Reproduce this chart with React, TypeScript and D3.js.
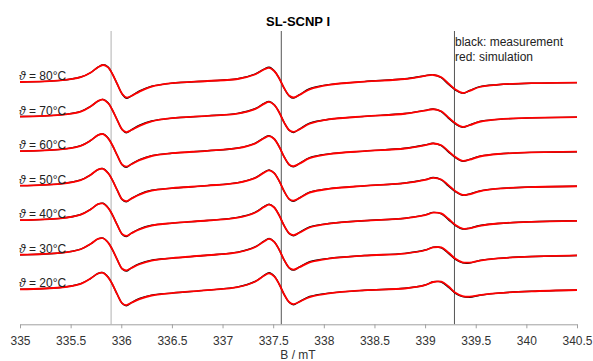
import React from "react";
import * as d3 from "d3";

// Magnetic field sampling grid (mT)
const fieldB: number[] = [
  335.0, 335.4, 335.6, 335.7, 335.77, 335.82, 335.87, 335.91, 335.96, 336.01,
  336.05, 336.1, 336.18, 336.3, 336.5, 336.85, 337.15, 337.32, 337.41, 337.46,
  337.51, 337.56, 337.61, 337.66, 337.7, 337.76, 337.86, 338.05, 338.4, 338.8,
  339.0, 339.08, 339.16, 339.23, 339.3, 339.37, 339.44, 339.54, 339.72, 340.05,
  340.5,
];

// Temperatures, top to bottom
const temperatures: number[] = [80, 70, 60, 50, 40, 30, 20];

// Measured first-derivative EPR spectra (a.u.)
const meas80 = [0, 1.6, 5.0, 9.5, 14.8, 17.2, 14.9, 8.5, -2.0, -12.3, -16.2, -13.8, -9.0, -4.2, -1.2, 1.0, 3.2, 7.8, 12.9, 14.7, 11.2, 3.5, -6.5, -14.1, -16.1, -12.7, -6.7, -2.6, 0.4, 3.2, 6.3, 7.3, 4.3, -2.3, -8.1, -11.4, -8.5, -4.6, -2.7, -1.2, -0.6];
const meas70 = [0, 1.7, 5.2, 10.3, 15.5, 17.2, 13.8, 7.0, -3.5, -13.3, -16.2, -13.3, -8.7, -4.4, -1.6, 0.7, 3.2, 7.8, 13.1, 15.1, 11.8, 4.0, -6.3, -14.0, -15.9, -12.5, -6.6, -2.7, 0.2, 3.0, 6.2, 7.6, 4.9, -1.6, -7.4, -10.8, -8.4, -4.8, -2.8, -1.3, -0.6];
const meas60 = [0, 1.7, 5.5, 10.8, 16.0, 17.2, 13.1, 6.3, -4.2, -13.9, -16.2, -13.0, -8.5, -4.5, -2.1, 0.3, 3.1, 7.8, 13.3, 15.5, 12.3, 4.3, -6.1, -13.9, -15.7, -12.3, -6.5, -2.8, 0.0, 2.8, 6.1, 7.9, 5.4, -0.8, -6.6, -10.2, -8.3, -5.0, -2.9, -1.3, -0.6];
const meas50 = [0, 1.8, 5.7, 11.0, 16.0, 17.0, 12.8, 6.0, -4.5, -14.1, -16.2, -12.8, -8.4, -4.6, -2.5, 0.0, 3.0, 7.8, 13.4, 15.8, 12.7, 4.5, -6.0, -13.8, -15.6, -12.2, -6.4, -3.0, -0.2, 2.7, 6.0, 8.1, 5.8, -0.3, -6.1, -9.6, -8.3, -5.2, -3.0, -1.4, -0.6];
const meas40 = [0, 1.8, 5.7, 11.0, 16.0, 16.9, 12.6, 5.8, -4.7, -14.2, -16.3, -12.9, -8.6, -5.0, -2.9, -0.3, 2.8, 7.8, 13.6, 16.0, 12.9, 4.7, -5.8, -13.6, -15.5, -12.2, -6.7, -3.3, -0.5, 2.0, 5.3, 7.8, 6.4, 0.6, -5.4, -8.8, -7.9, -5.3, -3.3, -1.6, -0.6];
const meas30 = [0, 1.8, 5.7, 11.0, 15.9, 16.7, 12.4, 5.6, -4.9, -14.3, -16.4, -13.1, -8.9, -5.4, -3.4, -0.5, 2.6, 7.8, 13.7, 16.3, 13.1, 4.9, -5.6, -13.4, -15.4, -12.2, -7.0, -3.6, -0.8, 1.4, 4.7, 7.6, 6.9, 1.4, -4.6, -8.1, -8.3, -5.7, -3.6, -1.8, -0.7];
const meas20 = [0, 1.8, 5.7, 11.0, 15.8, 16.6, 12.3, 5.5, -5.0, -14.3, -16.5, -13.3, -9.2, -5.8, -3.8, -0.8, 2.4, 7.8, 13.9, 16.5, 13.2, 5.0, -5.5, -13.3, -15.4, -12.2, -7.2, -3.8, -1.0, 1.0, 4.3, 7.6, 7.3, 2.2, -4.1, -7.3, -8.0, -5.9, -3.8, -2.0, -0.7];

// Simulated spectra (a.u.)
const sim80 = [0, 1.6, 4.8, 9.5, 14.8, 17.0, 14.6, 8.5, -2.0, -12.0, -15.5, -14.0, -9.6, -4.6, -1.2, 1.0, 3.0, 7.5, 12.5, 14.2, 11.0, 3.5, -6.5, -13.8, -15.5, -13.0, -7.3, -2.8, 0.4, 3.0, 6.1, 7.0, 4.7, -1.5, -7.5, -11.0, -8.8, -5.0, -2.7, -1.2, -0.6];
const sim70 = [0, 1.7, 5.0, 10.3, 15.5, 17.0, 13.5, 7.0, -3.5, -13.0, -15.5, -13.5, -9.3, -4.8, -1.6, 0.7, 3.0, 7.5, 12.7, 14.6, 11.6, 4.0, -6.3, -13.7, -15.3, -12.8, -7.2, -2.9, 0.2, 2.8, 6.0, 7.3, 5.3, -0.8, -6.8, -10.4, -8.7, -5.2, -2.8, -1.3, -0.6];
const sim60 = [0, 1.7, 5.3, 10.8, 16.0, 17.0, 12.8, 6.3, -4.2, -13.6, -15.5, -13.2, -9.1, -4.9, -2.1, 0.3, 2.9, 7.5, 12.9, 15.0, 12.1, 4.3, -6.1, -13.6, -15.1, -12.6, -7.1, -3.0, 0.0, 2.6, 5.9, 7.6, 5.8, 0.0, -6.0, -9.8, -8.6, -5.4, -2.9, -1.3, -0.6];
const sim50 = [0, 1.8, 5.5, 11.0, 16.0, 16.8, 12.5, 6.0, -4.5, -13.8, -15.5, -13.0, -9.0, -5.0, -2.5, 0.0, 2.8, 7.5, 13.0, 15.3, 12.5, 4.5, -6.0, -13.5, -15.0, -12.5, -7.0, -3.2, -0.2, 2.5, 5.8, 7.8, 6.2, 0.5, -5.5, -9.2, -8.6, -5.6, -3.0, -1.4, -0.6];
const sim40 = [0, 1.8, 5.5, 11.0, 16.0, 16.7, 12.3, 5.8, -4.7, -13.9, -15.6, -13.1, -9.2, -5.4, -2.9, -0.3, 2.6, 7.5, 13.2, 15.5, 12.7, 4.7, -5.8, -13.3, -14.9, -12.5, -7.3, -3.5, -0.5, 1.8, 5.1, 7.5, 6.8, 1.4, -4.8, -8.4, -8.2, -5.7, -3.3, -1.6, -0.6];
const sim30 = [0, 1.8, 5.5, 11.0, 15.9, 16.5, 12.1, 5.6, -4.9, -14.0, -15.7, -13.3, -9.5, -5.8, -3.4, -0.5, 2.4, 7.5, 13.3, 15.8, 12.9, 4.9, -5.6, -13.1, -14.8, -12.5, -7.6, -3.8, -0.8, 1.2, 4.5, 7.3, 7.3, 2.2, -4.0, -7.6, -7.8, -5.8, -3.6, -1.8, -0.7];
const sim20 = [0, 1.8, 5.5, 11.0, 15.8, 16.4, 12.0, 5.5, -5.0, -14.0, -15.8, -13.5, -9.8, -6.2, -3.8, -0.8, 2.2, 7.5, 13.5, 16.0, 13.0, 5.0, -5.5, -13.0, -14.8, -12.5, -7.8, -4.0, -1.0, 0.8, 4.1, 7.3, 7.7, 3.0, -3.5, -6.8, -7.4, -5.8, -3.8, -2.0, -0.7];

const measured: number[][] = [meas80, meas70, meas60, meas50, meas40, meas30, meas20];
const simulated: number[][] = [sim80, sim70, sim60, sim50, sim40, sim30, sim20];

// Reference field positions marked by vertical lines (mT)
const markerFields: number[] = [335.9, 337.58, 339.29];

const xTicks: number[] = [335, 335.5, 336, 336.5, 337, 337.5, 338, 338.5, 339, 339.5, 340, 340.5];

const W = 593;
const H = 361;
const FONT = "'Liberation Sans', Arial, Helvetica, sans-serif";

export default function App() {
  const x = d3.scaleLinear().domain([335, 340.5]).range([20, 577]);
  const yBase = d3
    .scalePoint<number>()
    .domain(temperatures)
    .range([82, 289.3]);
  const yInt = d3.scaleLinear().domain([-20, 20]).range([20, -20]);
  const axisY = 324.3;

  const axisRef = React.useRef<SVGGElement>(null);
  React.useEffect(() => {
    if (!axisRef.current) return;
    const axis = d3
      .axisBottom(x)
      .tickValues(xTicks)
      .tickFormat((d) => d3.format("")(d as number))
      .tickSize(4)
      .tickSizeOuter(0)
      .tickPadding(8);
    const g = d3.select(axisRef.current);
    g.call(axis as any);
    g.select(".domain").attr("stroke", "#a0a0a0").attr("stroke-width", 1);
    g.selectAll(".tick line").attr("stroke", "#a0a0a0");
    g.selectAll(".tick text")
      .attr("fill", "#333")
      .attr("font-size", 12)
      .attr("font-family", FONT);
  }, []);

  const lineFor = (t: number) =>
    d3
      .line<number>()
      .x((_, i) => x(fieldB[i]))
      .y((v) => (yBase(t) as number) + yInt(v))
      .curve(d3.curveCatmullRom.alpha(0.5));

  return (
    <svg
      width={W}
      height={H}
      style={{ position: "absolute", left: 0, top: 0, background: "#fff" }}
      fontFamily={FONT}
    >
      {markerFields.map((b, i) => (
        <line
          key={b}
          x1={x(b)}
          x2={x(b)}
          y1={31}
          y2={axisY}
          stroke={i === 0 ? "#cfcfcf" : "#555"}
          strokeWidth={i === 0 ? 1.6 : 1}
        />
      ))}

      {temperatures.map((t, k) => (
        <g key={t}>
          <path
            d={lineFor(t)(measured[k]) || ""}
            fill="none"
            stroke="#000"
            strokeWidth={1.4}
          />
          <path
            d={lineFor(t)(simulated[k]) || ""}
            fill="none"
            stroke="#ff0000"
            strokeWidth={1.8}
          />
          <text
            x={19}
            y={(yBase(t) as number) - 2}
            fontSize={12}
            fill="#222"
          >
            <tspan fontStyle="italic">ϑ</tspan>
            {` = ${t}°C`}
          </text>
        </g>
      ))}

      <g ref={axisRef} transform={`translate(0,${axisY})`} />

      <text
        x={298}
        y={359}
        textAnchor="middle"
        fontSize={12}
        fill="#333"
      >
        B / mT
      </text>

      <text
        x={298}
        y={25.5}
        textAnchor="middle"
        fontSize={13}
        fontWeight="bold"
        fill="#000"
      >
        SL-SCNP I
      </text>

      <text x={455} y={46} fontSize={12} fill="#222">
        black: measurement
      </text>
      <text x={455} y={61} fontSize={12} fill="#222">
        red: simulation
      </text>
    </svg>
  );
}
